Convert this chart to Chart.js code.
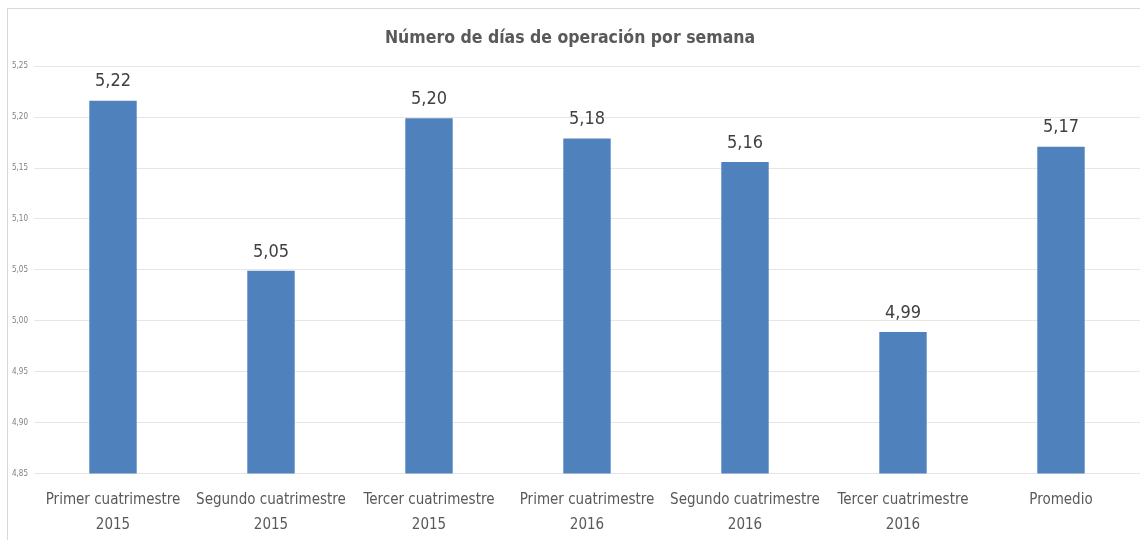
<!DOCTYPE html>
<html>
<head>
<meta charset="utf-8">
<script src="https://cdn.jsdelivr.net/npm/chart.js@4/dist/chart.umd.min.js"></script>
<style>
  html, body { margin: 0; padding: 0; background: #fff; }
  #wrap { position: relative; width: 1140px; height: 540px; overflow: hidden; }
  #frame { position: absolute; left: 7px; top: 8px; width: 1200px; height: 600px;
           border-left: 1px solid #d9d9d9; border-top: 1px solid #d9d9d9; }
  canvas { position: absolute; left: 0; top: 0; }
</style>
</head>
<body>
<div id="wrap">
  <div id="frame"></div>
  <canvas id="diasChart" width="1140" height="540"></canvas>
</div>
<script>
var FONT = '"DejaVu Sans Condensed", "Open Sans", sans-serif';

var categorias = [
    ['Primer cuatrimestre', '2015'],
    ['Segundo cuatrimestre', '2015'],
    ['Tercer cuatrimestre', '2015'],
    ['Primer cuatrimestre', '2016'],
    ['Segundo cuatrimestre', '2016'],
    ['Tercer cuatrimestre', '2016'],
    'Promedio'
];
var dias = [5.216, 5.049, 5.199, 5.179, 5.156, 4.989, 5.171];

function coma(v) {
    return v.toFixed(2).replace('.', ',');
}

// etiquetas de valor encima de cada barra
var etiquetas = {
    id: 'etiquetas',
    afterDatasetsDraw: function (chart) {
        var ctx = chart.ctx;
        var meta = chart.getDatasetMeta(0);
        ctx.save();
        ctx.font = '18px ' + FONT;
        ctx.fillStyle = '#404040';
        ctx.textAlign = 'center';
        ctx.textBaseline = 'bottom';
        meta.data.forEach(function (bar, i) {
            ctx.fillText(coma(dias[i]), bar.x, bar.y - 10);
        });
        ctx.restore();
    }
};

var ctx = document.getElementById('diasChart').getContext('2d');
var chart = new Chart(ctx, {
    type: 'bar',
    data: {
        labels: categorias,
        datasets: [{
            label: 'Días',
            data: dias,
            backgroundColor: '#4f81bd',
            borderWidth: 0,
            barPercentage: 0.30,
            categoryPercentage: 1.0
        }]
    },
    options: {
        responsive: false,
        animation: false,
        layout: { padding: { left: 0, right: 0, top: 18, bottom: -11 } },
        plugins: {
            legend: { display: false },
            tooltip: { enabled: false },
            title: {
                display: true,
                text: 'Número de días de operación por semana',
                color: '#595959',
                font: { family: FONT, size: 17.5, weight: 'bold', lineHeight: 1.44 },
                padding: { top: 8, bottom: 15 }
            }
        },
        scales: {
            x: {
                grid: { display: false, drawTicks: false },
                border: { display: false },
                ticks: {
                    color: '#595959',
                    font: { family: FONT, size: 15, lineHeight: 1.65 },
                    padding: 14,
                    maxRotation: 0,
                    autoSkip: false
                }
            },
            y: {
                min: 4.85,
                max: 5.25,
                grid: { color: '#e6e6e6', drawTicks: false },
                border: { display: false },
                ticks: {
                    stepSize: 0.05,
                    color: '#7f7f7f',
                    font: { family: FONT, size: 8 },
                    padding: 6,
                    callback: function (v) { return coma(v); }
                },
                afterFit: function (scale) { scale.width = 34; }
            }
        }
    },
    plugins: [etiquetas]
});
</script>
</body>
</html>
